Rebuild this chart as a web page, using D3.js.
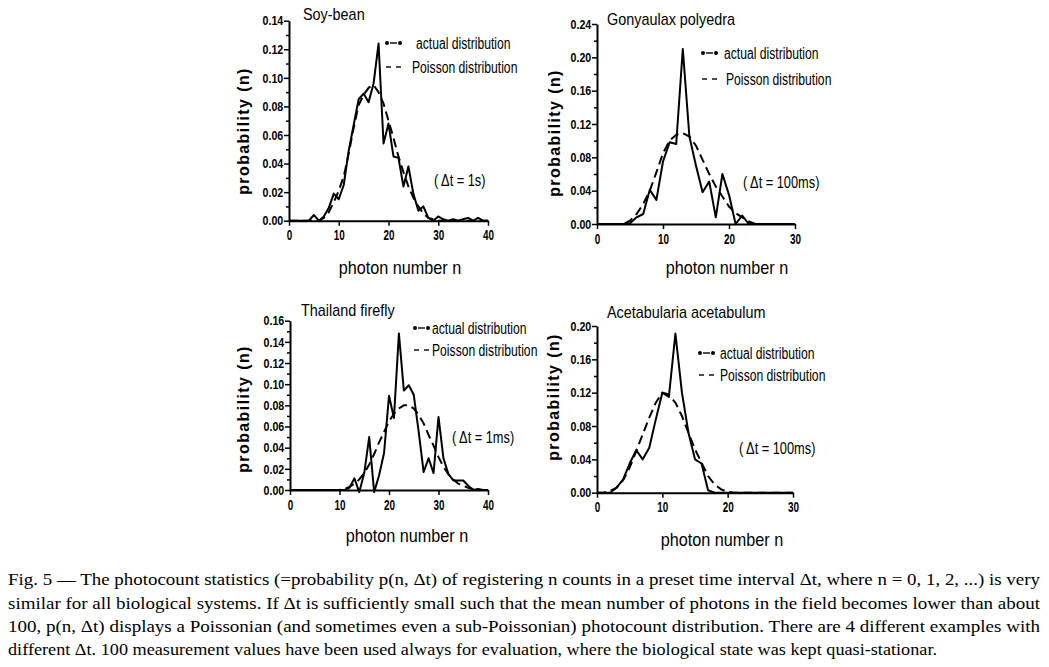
<!DOCTYPE html>
<html>
<head>
<meta charset="utf-8">
<script src="https://cdn.jsdelivr.net/npm/d3@7"></script>
<style>
  body { margin: 0; background: #fff; }
  svg { display: block; }
</style>
</head>
<body>
<div id="chart"></div>
<script>
// photon numbers (categories)
const n40 = [0,1,2,3,4,5,6,7,8,9,10,11,12,13,14,15,16,17,18,19,20,21,22,23,24,25,26,27,28,29,30,31,32,33,34,35,36,37,38,39,40];
const n30 = [0,1,2,3,4,5,6,7,8,9,10,11,12,13,14,15,16,17,18,19,20,21,22,23,24,25,26,27,28,29,30];

// Soy-bean, dt = 1s
const soyActual  = [0,0,0,0,0,0.004,0,0.003,0.009,0.019,0.015,0.025,0.049,0.067,0.085,0.089,0.083,0.096,0.124,0.054,0.068,0.045,0.044,0.024,0.038,0.019,0.007,0.010,0.002,0,0.003,0.001,0,0.001,0,0.001,0.002,0,0.002,0,0];
const soyPoisson = [0,0,0,0,0,0,0,0.002,0.006,0.013,0.021,0.031,0.047,0.065,0.081,0.088,0.093,0.095,0.090,0.082,0.070,0.058,0.045,0.034,0.024,0.016,0.010,0.005,0.002,0.001,0,0,0,0,0,0,0,0,0,0,0];

// Gonyaulax polyedra, dt = 100ms
const gonActual  = [0,0,0,0,0,0.001,0.008,0.012,0.041,0.029,0.075,0.098,0.096,0.210,0.105,0.070,0.038,0.051,0.008,0.060,0.035,0,0.010,0,0,0,0,0,0,0,0];
const gonPoisson = [0,0,0,0,0,0.004,0.012,0.024,0.040,0.062,0.085,0.100,0.107,0.109,0.105,0.094,0.077,0.060,0.045,0.033,0.021,0.013,0.008,0.003,0,0,0,0,0,0,0];

// Thailand firefly, dt = 1ms
const fireActual  = [0,0,0,0,0,0,0,0,0,0,0,0,0.002,0.011,-0.002,0.016,0.050,-0.002,0.014,0.035,0.089,0.068,0.148,0.094,0.099,0.090,0.055,0.017,0.030,0.016,0.069,0.030,0.015,0.009,0.009,0.009,0.004,0,0.001,0,0];
const firePoisson = [0,0,0,0,0,0,0,0,0,0,0,0.001,0.003,0.006,0.010,0.016,0.024,0.034,0.045,0.055,0.065,0.072,0.077,0.080,0.080,0.077,0.071,0.063,0.052,0.042,0.031,0.022,0.015,0.010,0.006,0.004,0.002,0.001,0,0,0];

// Acetabularia acetabulum, dt = 100ms
const aceActual  = [0,0,0,0.006,0.016,0.035,0.051,0.040,0.054,0.088,0.120,0.115,0.191,0.120,0.072,0.040,0.035,0.003,0,0,0,0,0,0,0,0,0,0,0,0,0];
const acePoisson = [0,0,0.002,0.006,0.015,0.030,0.050,0.070,0.090,0.108,0.120,0.118,0.108,0.092,0.072,0.052,0.036,0.020,0.010,0.004,0.001,0,0,0,0,0,0,0,0,0,0];

// tick labels
const xTicks40 = [0,10,20,30,40];
const xTicks30 = [0,10,20,30];
const yTicksSoy  = [0,0.02,0.04,0.06,0.08,0.10,0.12,0.14];
const yTicksGon  = [0,0.04,0.08,0.12,0.16,0.20,0.24];
const yTicksFire = [0,0.02,0.04,0.06,0.08,0.10,0.12,0.14,0.16];
const yTicksAce  = [0,0.04,0.08,0.12,0.16,0.20];

const captionLines = [
  "Fig. 5 \u2014 The photocount statistics (=probability p(n, \u0394t) of registering n counts in a preset time interval \u0394t, where n = 0, 1, 2, ...) is very",
  "similar for all biological systems. If \u0394t is sufficiently small such that the mean number of photons in the field becomes lower than about",
  "100, p(n, \u0394t) displays a Poissonian (and sometimes even a sub-Poissonian) photocount distribution. There are 4 different examples with",
  "different \u0394t. 100 measurement values have been used always for evaluation, where the biological state was kept quasi-stationar."
];

const sans = "'Liberation Sans', Arial, sans-serif";

const panels = [
  { title: "Soy-bean", n: n40, actual: soyActual, poisson: soyPoisson, xMax: 40, xTicks: xTicks40,
    yMax: 0.14, yTicks: yTicksSoy, x0: 289, x1: 488, yTop: 20.7, yBot: 220.7,
    titleX: 303, titleY: 20, legX: 386, legTextX: 416, legTextX2: 412, legY1: 43, legY2: 67,
    dt: "( \u0394t = 1s)", dtX: 434, dtY: 186, xlabX: 400, xlabY: 274, ylabX: 243, ylabY: 131 },
  { title: "Gonyaulax polyedra", n: n30, actual: gonActual, poisson: gonPoisson, xMax: 30, xTicks: xTicks30,
    yMax: 0.24, yTicks: yTicksGon, x0: 597, x1: 795, yTop: 24, yBot: 224,
    titleX: 607, titleY: 25, legX: 702, legTextX: 724, legTextX2: 726, legY1: 53, legY2: 79,
    dt: "( \u0394t = 100ms)", dtX: 743, dtY: 188, xlabX: 727, xlabY: 274, ylabX: 554, ylabY: 133 },
  { title: "Thailand firefly", n: n40, actual: fireActual, poisson: firePoisson, xMax: 40, xTicks: xTicks40,
    yMax: 0.16, yTicks: yTicksFire, x0: 290, x1: 488, yTop: 320.7, yBot: 490,
    titleX: 301, titleY: 316, legX: 414, legTextX: 432, legTextX2: 432, legY1: 328, legY2: 350,
    dt: "( \u0394t = 1ms)", dtX: 452, dtY: 443, xlabX: 407, xlabY: 542, ylabX: 243, ylabY: 409 },
  { title: "Acetabularia acetabulum", n: n30, actual: aceActual, poisson: acePoisson, xMax: 30, xTicks: xTicks30,
    yMax: 0.20, yTicks: yTicksAce, x0: 597, x1: 793, yTop: 326, yBot: 492.7,
    titleX: 607, titleY: 318, legX: 699, legTextX: 720, legTextX2: 720, legY1: 353, legY2: 375,
    dt: "( \u0394t = 100ms)", dtX: 739, dtY: 454, xlabX: 722, xlabY: 546, ylabX: 553, ylabY: 397 }
];

const svg = d3.select('#chart').append('svg')
    .attr('width', 1049)
    .attr('height', 667);

// condensed text: the scan uses a narrow face, so squeeze a normal sans
function narrowText(g, x, y, str, size, sx, anchor) {
    return g.append('text')
        .attr('transform', `translate(${x},${y}) scale(${sx},1)`)
        .attr('text-anchor', anchor || 'start')
        .attr('font-family', sans)
        .attr('font-size', size)
        .text(str);
}

function drawPanel(p) {
    let g = svg.append('g');

    let x = d3.scaleLinear().domain([0, p.xMax]).range([p.x0, p.x1]);
    let y = d3.scaleLinear().domain([0, p.yMax]).range([p.yBot, p.yTop]);

    // minor y ticks halfway between the labelled ones
    let minor = [];
    for (let i = 0; i < p.yTicks.length - 1; i++) minor.push((p.yTicks[i] + p.yTicks[i + 1]) / 2);

    g.append('g')
        .attr('transform', `translate(${p.x0},0)`)
        .call(d3.axisLeft(y).tickValues(minor).tickFormat('').tickSize(3).tickSizeOuter(0))
        .call(a => a.select('.domain').remove())
        .selectAll('line').attr('stroke-width', 1.5);

    let yAxis = g.append('g')
        .attr('transform', `translate(${p.x0},0)`)
        .call(d3.axisLeft(y).tickValues(p.yTicks).tickFormat(d3.format('.2f')).tickSize(5).tickSizeOuter(0).tickPadding(2));
    yAxis.select('.domain').attr('stroke-width', 2);
    yAxis.selectAll('line').attr('stroke-width', 1.5);
    yAxis.selectAll('text')
        .attr('font-family', sans).attr('font-weight', 'bold').attr('font-size', 13).attr('fill', '#000')
        .attr('transform', 'scale(0.82,1)');

    let xAxis = g.append('g')
        .attr('transform', `translate(0,${p.yBot})`)
        .call(d3.axisBottom(x).tickValues(p.xTicks).tickFormat(d3.format('d')).tickSize(5).tickSizeOuter(0).tickPadding(4));
    xAxis.select('.domain').attr('stroke-width', 2);
    xAxis.selectAll('line').attr('stroke-width', 1.5);
    xAxis.selectAll('text')
        .attr('font-family', sans).attr('font-weight', 'bold').attr('font-size', 15).attr('fill', '#000')
        .attr('transform', 'scale(0.66,1)');

    let line = d3.line()
        .x((d, i) => x(p.n[i]))
        .y(d => y(d));

    g.append('path')
        .datum(p.poisson)
        .attr('fill', 'none')
        .attr('stroke', '#000')
        .attr('stroke-width', 2)
        .attr('stroke-dasharray', '9,5')
        .attr('d', line);

    g.append('path')
        .datum(p.actual)
        .attr('fill', 'none')
        .attr('stroke', '#000')
        .attr('stroke-width', 2)
        .attr('stroke-linejoin', 'round')
        .attr('d', line);

    narrowText(g, p.titleX, p.titleY, p.title, 16, 0.9);

    // legend: actual (dot - dot), Poisson (dash dash)
    g.append('line')
        .attr('x1', p.legX + 4).attr('x2', p.legX + 11)
        .attr('y1', p.legY1).attr('y2', p.legY1)
        .attr('stroke', '#000').attr('stroke-width', 1.4);
    g.selectAll('.dot')
        .data([p.legX + 1, p.legX + 14])
        .join('circle')
        .attr('cx', d => d).attr('cy', p.legY1).attr('r', 2).attr('fill', '#000');
    narrowText(g, p.legTextX, p.legY1 + 5.5, 'actual distribution', 16, 0.76);

    g.selectAll('.dash')
        .data([p.legX, p.legX + 10])
        .join('line')
        .attr('x1', d => d).attr('x2', d => d + 5)
        .attr('y1', p.legY2).attr('y2', p.legY2)
        .attr('stroke', '#000').attr('stroke-width', 1.4);
    narrowText(g, p.legTextX2, p.legY2 + 5.5, 'Poisson distribution', 16, 0.76);

    narrowText(g, p.dtX, p.dtY, p.dt, 16, 0.8);

    narrowText(g, p.xlabX, p.xlabY, 'photon number n', 18, 0.9, 'middle');

    g.append('text')
        .attr('transform', `translate(${p.ylabX + 6},${p.ylabY}) rotate(-90)`)
        .attr('text-anchor', 'middle')
        .attr('font-family', sans)
        .attr('font-weight', 'bold').attr('font-size', 16)
        .attr('letter-spacing', 1.4)
        .text('probability (n)');
}

panels.forEach(drawPanel);

// caption
const capBase = [585, 609, 632, 655];
const capWidth = [1032, 1032, 1032, 929];
svg.append('g')
    .selectAll('text')
    .data(captionLines)
    .join('text')
        .attr('x', 8)
        .attr('y', (d, i) => capBase[i])
        .attr('font-family', "'Liberation Serif', 'Times New Roman', serif")
        .attr('font-size', 16.5)
        .attr('textLength', (d, i) => capWidth[i])
        .attr('lengthAdjust', 'spacingAndGlyphs')
        .text(d => d);
</script>
</body>
</html>
